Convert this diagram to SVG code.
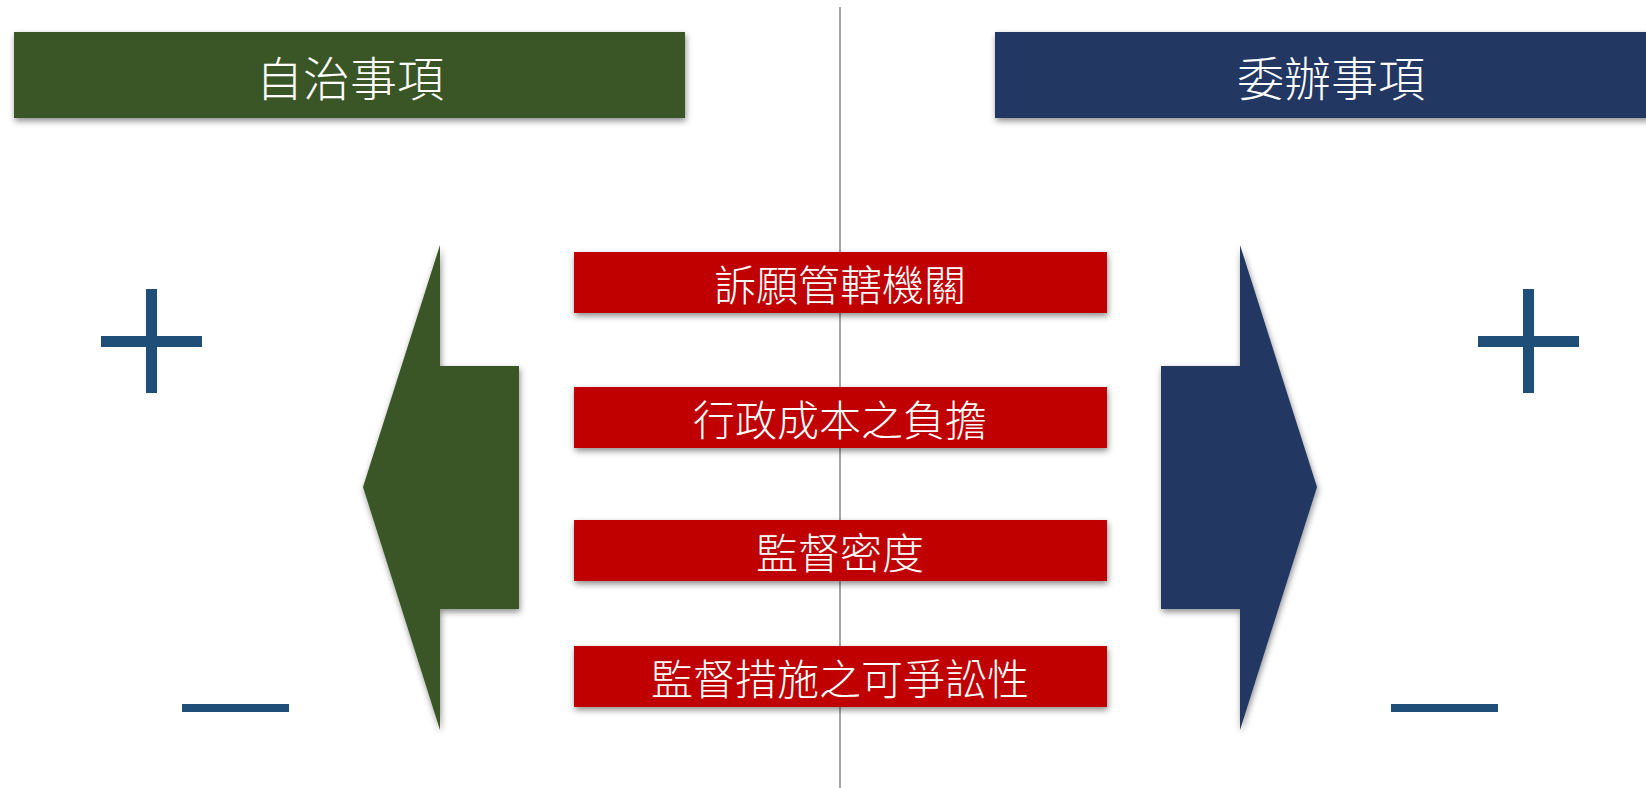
<svg xmlns="http://www.w3.org/2000/svg" width="1646" height="788" viewBox="0 0 1646 788">
<defs>
<filter id="sh" x="-10%" y="-20%" width="125%" height="150%">
<feDropShadow dx="1" dy="3" stdDeviation="3" flood-color="#000" flood-opacity="0.45"/>
</filter>
<style>
.hdr{font-family:"Noto Sans CJK TC","Noto Sans CJK SC",sans-serif;font-weight:300;font-size:47px;fill:#fff;text-anchor:middle;dominant-baseline:central}
.lbl{font-family:"Noto Sans CJK TC","Noto Sans CJK SC",sans-serif;font-weight:300;font-size:42px;fill:#fff;text-anchor:middle;dominant-baseline:central}
.red{fill:#c00000;filter:url(#sh)}
.sign{fill:#1f4e79}
</style>
</defs>
<rect width="1646" height="788" fill="#fff"/>
<g id="connectors">
<line x1="840" y1="7" x2="840" y2="788" stroke="#a6a6a6" stroke-width="2"/>
</g>
<g id="header-left">
<rect x="14" y="32" width="671" height="86" fill="#3b5727" filter="url(#sh)"/>
<text class="hdr" x="350" y="75">自治事項</text>
</g>
<g id="header-right">
<rect x="995" y="32" width="671" height="86" fill="#213864" filter="url(#sh)"/>
<text class="hdr" x="1331" y="75">委辦事項</text>
</g>
<g id="arrow-left">
<polygon points="440,245 440,366 519,366 519,609 440,609 440,730 363,487" fill="#3b5727" filter="url(#sh)"/>
</g>
<g id="arrow-right">
<polygon points="1240,245 1317,487 1240,730 1240,609 1161,609 1161,366 1240,366" fill="#213864" filter="url(#sh)"/>
</g>
<g id="item1">
<rect class="red" x="574" y="252" width="533" height="61"/>
<text class="lbl" x="840" y="282">訴願管轄機關</text>
</g>
<g id="item2">
<rect class="red" x="574" y="387" width="533" height="61"/>
<text class="lbl" x="840" y="417">行政成本之負擔</text>
</g>
<g id="item3">
<rect class="red" x="574" y="520" width="533" height="61"/>
<text class="lbl" x="840" y="550">監督密度</text>
</g>
<g id="item4">
<rect class="red" x="574" y="646" width="533" height="61"/>
<text class="lbl" x="840" y="676">監督措施之可爭訟性</text>
</g>
<g id="plus-left">
<rect class="sign" x="146" y="289" width="11" height="104"/>
<rect class="sign" x="101" y="336" width="101" height="11"/>
</g>
<g id="minus-left">
<rect class="sign" x="182" y="704" width="107" height="8"/>
</g>
<g id="plus-right">
<rect class="sign" x="1523" y="289" width="11" height="104"/>
<rect class="sign" x="1478" y="336" width="101" height="11"/>
</g>
<g id="minus-right">
<rect class="sign" x="1391" y="704" width="107" height="8"/>
</g>
</svg>
